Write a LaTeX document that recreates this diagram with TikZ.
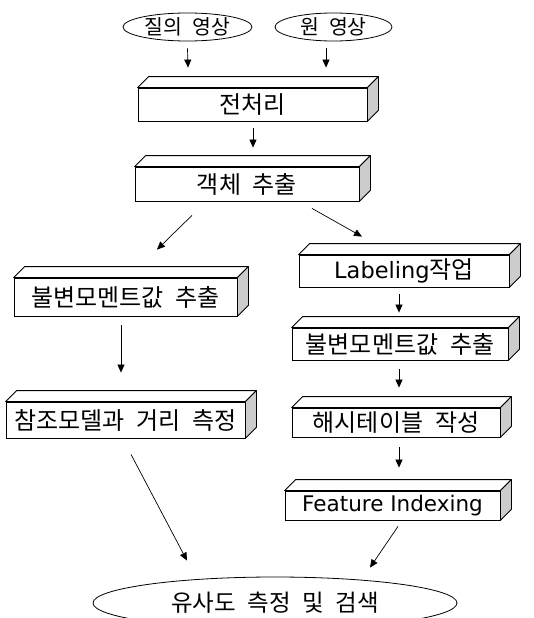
\documentclass[tikz,border=0pt]{standalone}
\usepackage{fontspec}
\setmainfont{DejaVu Sans}
\newfontfamily\kr{Noto Sans CJK KR}[WordSpace=2.2]
\usetikzlibrary{shapes.geometric,arrows.meta,calc}
\definecolor{sidegray}{RGB}{204,204,204}
\begin{document}
\begin{tikzpicture}[x=1pt,y=-1pt,
  stepbox/.style={draw, fill=white, line width=0.8pt, inner sep=0pt,
    font=\fontsize{24}{28}\selectfont},
  face/.style={draw, fill=white, line width=0.8pt, line join=round},
  oval/.style={draw, ellipse, line width=0.8pt, inner sep=0pt,
    font=\fontsize{20.5}{24}\selectfont},
  arr/.style={-{Triangle[length=8pt,width=7pt]}, line width=0.7pt}]
\useasboundingbox (0,0) rectangle (533,618);
\clip (0,0) rectangle (533,618);

% input images
\node[oval, minimum width=129pt, minimum height=28pt] (q) at (187.5,27) {\kr 질의 영상};
\node[oval, minimum width=117pt, minimum height=28pt] (o) at (333.5,27) {\kr 원 영상};

% processing blocks (front faces)
\node[stepbox, minimum width=229pt, minimum height=33pt] (pre)  at (252.5,104.5) {\kr 전처리};
\node[stepbox, minimum width=224pt, minimum height=34pt] (obj)  at (247,184)     {\kr 객체 추출};
\node[stepbox, minimum width=223pt, minimum height=38pt] (lmom) at (125.5,297)   {\kr 불변모멘트값 추출};
\node[stepbox, minimum width=239pt, minimum height=36pt] (ref)  at (125.5,420)   {\kr 참조모델과 거리 측정};
\node[stepbox, minimum width=210pt, minimum height=32pt] (lab)  at (404,271)     {\fontsize{22.5}{26}\selectfont Labeling{\fontsize{24}{28}\selectfont\kr 작업}};
\node[stepbox, minimum width=216pt, minimum height=32pt] (rmom) at (400,344)     {\kr 불변모멘트값 추출};
\node[stepbox, minimum width=208pt, minimum height=29pt] (hash) at (396,422.5)   {\kr 해시테이블 작성};
\node[stepbox, minimum width=215pt, minimum height=29pt] (feat) at (392.5,505.5) {\fontsize{21.5}{25}\selectfont Feature Indexing};

% top and shaded side faces of each block
\foreach \n in {pre,obj,lmom,ref,lab,rmom,hash,feat}{
  \draw[face] (\n.north west) -- ++(11,-11) -- ($(\n.north east)+(11,-11)$) -- (\n.north east) -- cycle;
  \draw[face, fill=sidegray] (\n.north east) -- ++(11,-11) -- ($(\n.south east)+(11,-11)$) -- (\n.south east) -- cycle;
}

% result
\node[oval, minimum width=364pt, minimum height=52pt, font=\fontsize{23.5}{27}\selectfont] (res) at (275,603) {\kr 유사도 측정 및 검색};

% connectors
\draw[arr] ([yshift=-7pt]q.south) -- ([xshift=-64.5pt,yshift=20pt]pre.north);
\draw[arr] ([xshift=-7.5pt,yshift=-7pt]o.south) -- ([xshift=73.5pt,yshift=20pt]pre.north);
\draw[arr] ([xshift=0.5pt,yshift=-7pt]pre.south) -- ([xshift=6pt,yshift=19pt]obj.north);
\draw[arr] ([xshift=-55pt,yshift=-14pt]obj.south) -- ([xshift=31.5pt,yshift=28pt]lmom.north);
\draw[arr] ([xshift=65pt,yshift=-7pt]obj.south) -- ([xshift=-42pt,yshift=18pt]lab.north);
\draw[arr] ([xshift=-5pt,yshift=-7pt]lab.south) -- ([xshift=-1pt,yshift=15pt]rmom.north);
\draw[arr] ([xshift=-1pt,yshift=-9pt]rmom.south) -- ([xshift=3pt,yshift=20pt]hash.north);
\draw[arr] ([xshift=3pt,yshift=-10pt]hash.south) -- ([xshift=6.5pt,yshift=23pt]feat.north);
\draw[arr] ([xshift=-4.5pt,yshift=-9pt]lmom.south) -- ([xshift=-4.5pt,yshift=29pt]ref.north);
\draw[arr] ([xshift=5.5pt,yshift=-16pt]ref.south) -- ([xshift=-88pt,yshift=16pt]res.north);
\draw[arr] ([xshift=5.5pt,yshift=-6pt]feat.south) -- ([xshift=95pt,yshift=9pt]res.north);
\end{tikzpicture}
\end{document}
